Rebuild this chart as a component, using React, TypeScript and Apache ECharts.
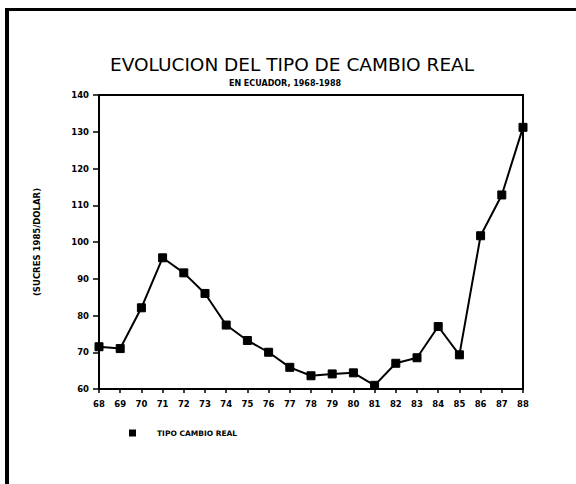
import React, { useEffect, useRef } from "react";
import * as echarts from "echarts";

const years: string[] = ["68","69","70","71","72","73","74","75","76","77","78","79","80","81","82","83","84","85","86","87","88"];
const tipoCambioReal: number[] = [71.5, 71.0, 82.1, 95.7, 91.6, 86.0, 77.4, 73.2, 70.0, 65.9, 63.6, 64.1, 64.4, 61.0, 67.0, 68.5, 77.0, 69.3, 101.7, 112.8, 131.2];
const titleText = "EVOLUCION DEL TIPO DE CAMBIO REAL";
const subtitleText = "EN ECUADOR, 1968-1988";
const yAxisName = "(SUCRES 1985/DOLAR)";
const seriesName = "TIPO CAMBIO REAL";

export default function App() {
  const ref = useRef<HTMLDivElement>(null);
  useEffect(() => {
    if (!ref.current) return;
    const chart = echarts.init(ref.current, null, { renderer: "svg" });
    const boldSmall = { fontFamily: "DejaVu Sans", fontWeight: "bold" as const, color: "#000" };
    chart.setOption({
      animation: false,
      backgroundColor: "#fff",
      title: [
        {
          text: titleText,
          left: 292,
          top: 55,
          padding: 0,
          textAlign: "center",
          textStyle: { fontFamily: "DejaVu Sans", fontWeight: "normal", fontSize: 18.5, color: "#000" },
        },
        {
          text: subtitleText,
          left: 285,
          top: 79,
          padding: 0,
          textAlign: "center",
          textStyle: { ...boldSmall, fontSize: 8 },
        },
      ],
      grid: {
        left: 99,
        top: 95,
        width: 424,
        height: 294,
        show: true,
        borderColor: "#000",
        borderWidth: 2,
        backgroundColor: "transparent",
      },
      legend: {
        left: 124,
        top: 424,
        itemWidth: 7,
        itemHeight: 7,
        itemGap: 10,
        icon: "rect",
        data: [{ name: seriesName, icon: "rect", itemStyle: { color: "#000" } }],
        textStyle: { ...boldSmall, fontSize: 7.5, padding: [0, 0, 0, 16] },
      },
      xAxis: {
        type: "category",
        data: years,
        boundaryGap: false,
        axisLine: { lineStyle: { color: "#000", width: 2 } },
        axisTick: { show: true, length: 4, lineStyle: { color: "#000", width: 1.5 }, alignWithLabel: true },
        axisLabel: { ...boldSmall, fontSize: 8.5, margin: 10, interval: 0 },
        splitLine: { show: false },
      },
      yAxis: {
        type: "value",
        min: 60,
        max: 140,
        interval: 10,
        name: yAxisName,
        nameLocation: "middle",
        nameGap: 58,
        nameRotate: 90,
        nameTextStyle: { ...boldSmall, fontSize: 8.5 },
        axisLine: { show: true, lineStyle: { color: "#000", width: 2 } },
        axisTick: { show: true, length: 6, lineStyle: { color: "#000", width: 1.5 } },
        axisLabel: { ...boldSmall, fontSize: 8.5, margin: 10 },
        splitLine: { show: false },
      },
      series: [
        {
          name: seriesName,
          type: "line",
          data: tipoCambioReal,
          symbol: "rect",
          symbolSize: 8,
          showAllSymbol: true,
          lineStyle: { color: "#000", width: 2 },
          itemStyle: { color: "#000", borderColor: "#000" },
        },
      ],
      graphic: [
        { type: "line", shape: { x1: 5, y1: 9.5, x2: 576, y2: 9.5 }, style: { stroke: "#000", lineWidth: 3 } },
        { type: "line", shape: { x1: 7, y1: 8, x2: 7, y2: 484 }, style: { stroke: "#000", lineWidth: 4 } },
      ],
    });
    return () => chart.dispose();
  }, []);
  return <div ref={ref} style={{ position: "absolute", left: 0, top: 0, width: 576, height: 484 }} />;
}
